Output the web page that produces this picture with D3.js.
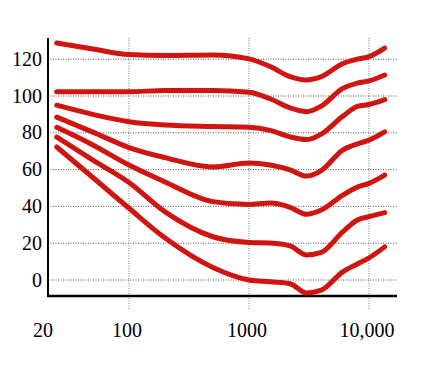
<!DOCTYPE html>
<html>
<head>
<meta charset="utf-8">
<script src="https://cdn.jsdelivr.net/npm/d3@7"></script>
<style>
  body { margin: 0; background: #fff; }
  svg { display: block; }
  text { font-family: "Liberation Serif", "DejaVu Serif", serif; fill: #000; }
</style>
</head>
<body>
<svg id="chart" width="444" height="385"></svg>
<script>
/* ---------------------------------------------------
   Data
--------------------------------------------------- */

const freqs = [25, 50, 100, 200, 500, 1000, 1500, 2200, 3000, 4000, 6000, 8000, 10000, 13500];

const phon120 = [128.8, 125.5, 122.5, 122, 122.3, 120.2, 116, 110.5, 108.7, 110.5, 117.5, 120, 121.4, 126];
const phon100 = [102.3, 102.3, 102.3, 103, 103, 102, 98.5, 93.5, 91.5, 94.5, 104, 107, 108.2, 111.4];
const phon80 = [95, 90, 86, 84.2, 83.4, 83, 81.3, 77.8, 76.3, 79.3, 88.8, 94.4, 95.4, 98];
const phon60 = [88.5, 80.4, 72, 66.5, 61.4, 63.6, 62.5, 59.8, 56.5, 59.5, 70.5, 74, 76, 80.5];
const phon40 = [83, 73.4, 62.5, 53.3, 42.6, 41, 41.8, 39.5, 35.7, 38, 46, 50.5, 52.5, 57];
const phon20 = [77.7, 65.2, 53, 37, 23.5, 20.4, 20.1, 18.5, 13.6, 15, 26, 32.6, 34.4, 36.6];
const phon0 = [72.3, 55.7, 39, 22.8, 6.8, 0, -1, -2, -7, -5.5, 4.3, 8.7, 12, 18];

const series = [phon120, phon100, phon80, phon60, phon40, phon20, phon0];

const yTicks = [0, 20, 40, 60, 80, 100, 120];
const xTicks = [20, 100, 1000, 10000];
const xTickLabels = ["20", "100", "1000", "10,000"];
const xGrid = [100, 1000, 10000];

/* ---------------------------------------------------
   Scales
--------------------------------------------------- */

const svg = d3.select("#chart");

const x = d3.scaleLog()
  .domain([20, 17000])
  .range([45.1, 396.7]);

const y = d3.scaleLinear()
  .domain([0, 120])
  .range([280, 59.2]);

const plotLeft = 48, plotRight = 397, plotTop = 38, plotBottom = 296;

/* ---------------------------------------------------
   Grid
--------------------------------------------------- */

svg.append("g")
  .selectAll("line")
  .data(yTicks)
  .join("line")
  .attr("x1", plotLeft)
  .attr("x2", plotRight)
  .attr("y1", d => y(d))
  .attr("y2", d => y(d))
  .attr("stroke", "#555")
  .attr("stroke-width", 1)
  .attr("stroke-dasharray", "1,1.5");

svg.append("g")
  .selectAll("line")
  .data(xGrid)
  .join("line")
  .attr("x1", d => x(d))
  .attr("x2", d => x(d))
  .attr("y1", plotTop)
  .attr("y2", 310)
  .attr("stroke", "#777")
  .attr("stroke-width", 1)
  .attr("stroke-dasharray", "1,1.5");

/* ---------------------------------------------------
   Axes
--------------------------------------------------- */

svg.append("line")
  .attr("x1", plotLeft).attr("x2", plotLeft)
  .attr("y1", plotTop).attr("y2", plotBottom + 1)
  .attr("stroke", "#000")
  .attr("stroke-width", 2);

svg.append("line")
  .attr("x1", plotLeft - 1).attr("x2", plotRight)
  .attr("y1", plotBottom).attr("y2", plotBottom)
  .attr("stroke", "#000")
  .attr("stroke-width", 2.4);

svg.append("g")
  .selectAll("text")
  .data(yTicks)
  .join("text")
  .attr("x", 42)
  .attr("y", d => y(d))
  .attr("dy", "0.33em")
  .attr("text-anchor", "end")
  .attr("font-size", "20px")
  .text(d => d);

svg.append("g")
  .selectAll("text")
  .data(xTicks)
  .join("text")
  .attr("x", d => x(d) - 2)
  .attr("y", 337)
  .attr("text-anchor", "middle")
  .attr("font-size", "20px")
  .text((d, i) => xTickLabels[i]);

/* ---------------------------------------------------
   Curves
--------------------------------------------------- */

const line = d3.line()
  .x((d, i) => x(freqs[i]))
  .y(d => y(d))
  .curve(d3.curveMonotoneX);

svg.append("g")
  .selectAll("path")
  .data(series)
  .join("path")
  .attr("d", line)
  .attr("fill", "none")
  .attr("stroke", "#d0140f")
  .attr("stroke-width", 5)
  .attr("stroke-linecap", "round")
  .attr("stroke-linejoin", "round");
</script>
</body>
</html>
